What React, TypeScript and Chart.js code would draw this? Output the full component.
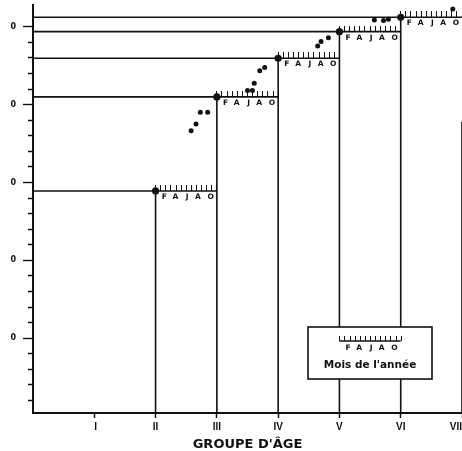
import React, { useEffect, useRef } from 'react';
import { Chart, registerables } from 'chart.js';

Chart.register(...registerables);

// ---- data ----
const GROUP_LABELS = ['I', 'II', 'III', 'IV', 'V', 'VI', 'VII'];
const GROUP_POSITIONS = [1, 2, 3, 4, 5, 6, 7];

// step (group) values: group position -> value at start of year
const STEP_GROUPS = [2, 3, 4, 5, 6];
const STEP_VALUES = [14.46, 20.5, 22.98, 24.69, 25.61];

// monthly observations (x in group units, y in value units)
const MONTHLY_X = [2.58, 2.66, 2.73, 2.85, 3.5, 3.58, 3.61, 3.7, 3.78, 4.645, 4.7, 4.82, 5.57, 5.72, 5.8, 6.85];
const MONTHLY_Y = [18.33, 18.76, 19.51, 19.51, 20.91, 20.91, 21.38, 22.17, 22.38, 23.77, 24.05, 24.3, 25.44, 25.4, 25.49, 26.15];

// month scale
const MONTHS_PER_GROUP = 12;
const MONTH_TICK_INDEX = [0, 1, 2, 3, 4, 5, 6, 7, 8, 9, 10, 11, 12];
const MONTH_LETTERS = ['F', 'A', 'J', 'A', 'O'];
const MONTH_LETTER_AT = [1.7, 3.9, 6.2, 8.3, 10.8];

// y axis
const Y_MIN = 0.2;
const Y_MAX = 26.4;
const Y_TICK_FIRST = 1;
const Y_TICK_LAST = 25;
const Y_LABEL_EVERY = 5;
const Y_TICK_TEXT = '0';

// right edge (VII) line, visible from this value down
const EDGE_GROUP = 7;
const EDGE_TOP_VALUE = 18.9;

const X_TITLE = "GROUPE D'ÂGE";
const LEGEND_TEXT = "Mois de l'année";

const INK = '#111111';

function makeTickImage(): HTMLCanvasElement {
  const c = document.createElement('canvas');
  c.width = 1;
  c.height = 12;
  const g = c.getContext('2d')!;
  g.fillStyle = INK;
  g.fillRect(0, 0, 1, 6);
  return c;
}

const monthsPlugin = {
  id: 'monthsAndLegend',
  afterDatasetsDraw(chart: any) {
    const { ctx, chartArea } = chart;
    const x = chart.scales.x;
    const y = chart.scales.y;
    ctx.save();
    ctx.fillStyle = INK;
    ctx.strokeStyle = INK;
    ctx.textAlign = 'center';
    ctx.textBaseline = 'middle';
    ctx.font = 'bold 7.5px "DejaVu Sans", sans-serif';
    STEP_GROUPS.forEach((g, i) => {
      const py = y.getPixelForValue(STEP_VALUES[i]);
      MONTH_LETTERS.forEach((L, j) => {
        const px = x.getPixelForValue(g + MONTH_LETTER_AT[j] / MONTHS_PER_GROUP);
        ctx.fillText(L, px, py + 6);
      });
    });

    // legend box
    const unit = x.getPixelForValue(1) - x.getPixelForValue(0);
    const bw = 124;
    const bh = 52;
    const bx = chartArea.right - 154;
    const by = chartArea.bottom - 86;
    ctx.fillStyle = '#ffffff';
    ctx.fillRect(bx, by, bw, bh);
    ctx.lineWidth = 1.6;
    ctx.strokeRect(bx, by, bw, bh);
    const cx = bx + bw / 2;
    const sx = cx - unit / 2;
    const ly = by + 14;
    ctx.lineWidth = 1.4;
    ctx.beginPath();
    ctx.moveTo(sx, ly);
    ctx.lineTo(sx + unit, ly);
    ctx.stroke();
    ctx.lineWidth = 1;
    MONTH_TICK_INDEX.forEach((m) => {
      const tx = Math.round(sx + (unit * m) / MONTHS_PER_GROUP) + 0.5;
      ctx.beginPath();
      ctx.moveTo(tx, ly);
      ctx.lineTo(tx, ly - 5);
      ctx.stroke();
    });
    ctx.fillStyle = INK;
    ctx.font = 'bold 7.5px "DejaVu Sans", sans-serif';
    MONTH_LETTERS.forEach((L, j) => {
      ctx.fillText(L, sx + (unit * MONTH_LETTER_AT[j]) / MONTHS_PER_GROUP, ly + 7);
    });
    ctx.font = 'bold 10.5px "DejaVu Sans", sans-serif';
    ctx.fillText(LEGEND_TEXT, cx, by + 38);
    ctx.restore();
  },
};

export default function App() {
  const ref = useRef<HTMLCanvasElement>(null);

  useEffect(() => {
    if (!ref.current) return;
    const tickImg = makeTickImage();

    const datasets: any[] = [];

    // step points (big dots)
    datasets.push({
      label: 'steps',
      data: STEP_GROUPS.map((g, i) => ({ x: g, y: STEP_VALUES[i] })),
      pointRadius: 3.6,
      pointBackgroundColor: INK,
      pointBorderColor: INK,
      pointBorderWidth: 0,
      showLine: false,
    });

    // monthly dots
    datasets.push({
      label: 'monthly',
      data: MONTHLY_X.map((mx, i) => ({ x: mx, y: MONTHLY_Y[i] })),
      pointRadius: 2.5,
      pointBackgroundColor: INK,
      pointBorderColor: INK,
      pointBorderWidth: 0,
      showLine: false,
    });

    // month ticks on each scale
    const tickData: any[] = [];
    STEP_GROUPS.forEach((g, i) => {
      MONTH_TICK_INDEX.forEach((m) => {
        tickData.push({ x: g + m / MONTHS_PER_GROUP, y: STEP_VALUES[i] });
      });
    });
    datasets.push({
      label: 'monthTicks',
      data: tickData,
      pointStyle: tickImg,
      pointRadius: 3,
      showLine: false,
    });

    // scale segments (one group wide)
    STEP_GROUPS.forEach((g, i) => {
      datasets.push({
        label: 'scale' + g,
        data: [
          { x: g, y: STEP_VALUES[i] },
          { x: g + 1, y: STEP_VALUES[i] },
        ],
        showLine: true,
        borderColor: INK,
        borderWidth: 1.6,
        pointRadius: 0,
      });
    });

    // step lines: from axis to group, then down to the baseline
    STEP_GROUPS.forEach((g, i) => {
      datasets.push({
        label: 'step' + g,
        data: [
          { x: 0, y: STEP_VALUES[i] },
          { x: g, y: STEP_VALUES[i] },
          { x: g, y: Y_MIN },
        ],
        showLine: true,
        borderColor: INK,
        borderWidth: 1.6,
        pointRadius: 0,
      });
    });

    // right edge line
    datasets.push({
      label: 'edge',
      data: [
        { x: EDGE_GROUP, y: EDGE_TOP_VALUE },
        { x: EDGE_GROUP, y: Y_MIN },
      ],
      showLine: true,
      borderColor: INK,
      borderWidth: 1.6,
      pointRadius: 0,
    });

    const chart = new Chart(ref.current, {
      type: 'scatter',
      data: { datasets },
      options: {
        animation: false,
        responsive: false,
        devicePixelRatio: 1,
        layout: { padding: { top: 5, right: 1, left: 0, bottom: 0 } },
        plugins: { legend: { display: false }, tooltip: { enabled: false } },
        elements: { line: { tension: 0 } },
        scales: {
          x: {
            type: 'linear',
            min: 0,
            max: 7,
            afterBuildTicks: (s: any) => {
              s.ticks = GROUP_POSITIONS.map((v) => ({ value: v }));
            },
            afterFit: (s: any) => {
              s.height = 38;
              s.paddingLeft = 0;
              s.paddingRight = 0;
            },
            ticks: {
              autoSkip: false,
              maxRotation: 0,
              padding: 3,
              align: 'inner',
              color: INK,
              font: { family: '"Liberation Sans", Arial, sans-serif', size: 10, weight: 'bold' },
              callback: (_v: any, i: number) => GROUP_LABELS[i],
            },
            grid: {
              drawOnChartArea: false,
              tickLength: 5,
              tickWidth: 1.5,
              tickColor: INK,
            },
            border: { display: true, color: INK, width: 2 },
            title: {
              display: true,
              text: X_TITLE,
              color: INK,
              font: { family: '"DejaVu Sans", sans-serif', size: 13, weight: 'bold', lineHeight: 1 },
              padding: { top: 0, bottom: 0 },
            },
          },
          y: {
            type: 'linear',
            min: Y_MIN,
            max: Y_MAX,
            ticks: {
              stepSize: 1,
              padding: 7,
              color: INK,
              font: { family: '"DejaVu Sans", sans-serif', size: 8, weight: 'bold' },
              callback: (v: any) => (Math.round(v) % Y_LABEL_EVERY === 0 ? Y_TICK_TEXT : ''),
            },
            afterBuildTicks: (s: any) => {
              s.ticks = s.ticks.filter(
                (t: any) => Number.isInteger(t.value) && t.value >= Y_TICK_FIRST && t.value <= Y_TICK_LAST
              );
            },
            afterFit: (s: any) => {
              s.width = 33;
              s.paddingTop = 0;
              s.paddingBottom = 0;
            },
            grid: {
              drawOnChartArea: false,
              tickLength: 10,
              tickWidth: 1.4,
              tickColor: INK,
              tickBorderDash: (c: any) =>
                c.tick && Math.round(c.tick.value) % Y_LABEL_EVERY === 0 ? [] : [0, 5, 6, 0],
            },
            border: { display: true, color: INK, width: 2 },
          },
        },
      },
      plugins: [monthsPlugin],
    } as any);

    return () => chart.destroy();
  }, []);

  return (
    <div style={{ position: 'fixed', left: 0, top: 0, width: 462, height: 451, overflow: 'hidden', background: '#fff' }}>
      <canvas ref={ref} width={467} height={451} style={{ width: 467, height: 451, display: 'block' }} />
    </div>
  );
}
